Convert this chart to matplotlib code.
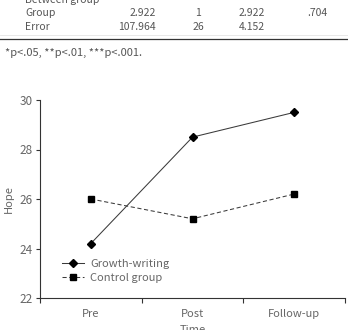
import numpy as np
import matplotlib.pyplot as plt
from matplotlib.lines import Line2D

plt.rcParams['font.family'] = ['Noto Sans CJK KR', 'DejaVu Sans']

times = ["Pre", "Post", "Follow-up"]
growth = [24.2, 28.5, 29.5]
control = [26.0, 25.2, 26.2]

# tail of the ANOVA table above the figure
tbl_rows = [["Group", "2.922", "1", "2.922", ".704"],
            ["Error", "107.964", "26", "4.152", ""]]
footnote = "*p<.05, **p<.01, ***p<.001."

W, H = 348, 330
fig = plt.figure(figsize=(W / 100, H / 100), dpi=100)
txt = "#555555"
fs = 7.5

def fy(py):
    return 1 - py / H

fig.text(25 / W, fy(0), "Between group", fontsize=fs, color=txt, va="center", ha="left")
col_x = [25, 156, 198, 265, 327]
col_ha = ["left", "right", "center", "right", "right"]
for r, row in enumerate(tbl_rows):
    y = fy(13 + r * 14)
    for c, val in enumerate(row):
        fig.text(col_x[c] / W, y, val, fontsize=fs, color=txt, va="center", ha=col_ha[c])
fig.add_artist(Line2D([0, 1], [fy(35), fy(35)], color="#e4e4e4", lw=0.6))
fig.add_artist(Line2D([0, 1], [fy(39), fy(39)], color="#333333", lw=0.9))
fig.text(5 / W, fy(53), footnote, fontsize=8, color=txt, va="center", ha="left")

ax = fig.add_axes([40 / W, 1 - 298 / H, 305 / W, 198 / H])
x = np.arange(len(times)) + 0.5
ax.plot(x, growth, color="#3a3a3a", lw=0.75, marker="D", ms=4.2,
        mfc="black", mec="black", label="Growth-writing")
ax.plot(x, control, color="#3a3a3a", lw=0.75, ls=(0, (4, 2.5)), marker="s", ms=4,
        mfc="black", mec="black", label="Control group")

ax.set_xlim(0, 3)
ax.set_ylim(22, 30)
ax.set_yticks([22, 24, 26, 28, 30])
ax.set_xticks([0, 1, 2, 3])
ax.set_xticklabels([])
ax.set_xticks(x, minor=True)
ax.set_xticklabels(times, minor=True)
ax.tick_params(axis="x", which="minor", length=0, pad=8, labelsize=8, labelcolor="#666666")
ax.tick_params(axis="x", which="major", length=3.5, width=0.8, color="#333333")
ax.tick_params(axis="y", length=3, width=0.8, color="#333333", labelsize=8.5,
               labelcolor="#666666", pad=2.5)
for s in ["top", "right"]:
    ax.spines[s].set_visible(False)
for s in ["left", "bottom"]:
    ax.spines[s].set_color("#333333")
    ax.spines[s].set_linewidth(0.8)

ax.set_ylabel("Hope", fontsize=8, color="#666666", labelpad=4)
ax.set_xlabel("Time", fontsize=8, color="#666666", labelpad=4)

ax.legend(loc="lower left", bbox_to_anchor=(0.04, 0.025), frameon=False, fontsize=8,
          handlelength=2.0, handletextpad=0.5, labelspacing=0.38, labelcolor="#666666")

fig.savefig("out.png", dpi=100)
